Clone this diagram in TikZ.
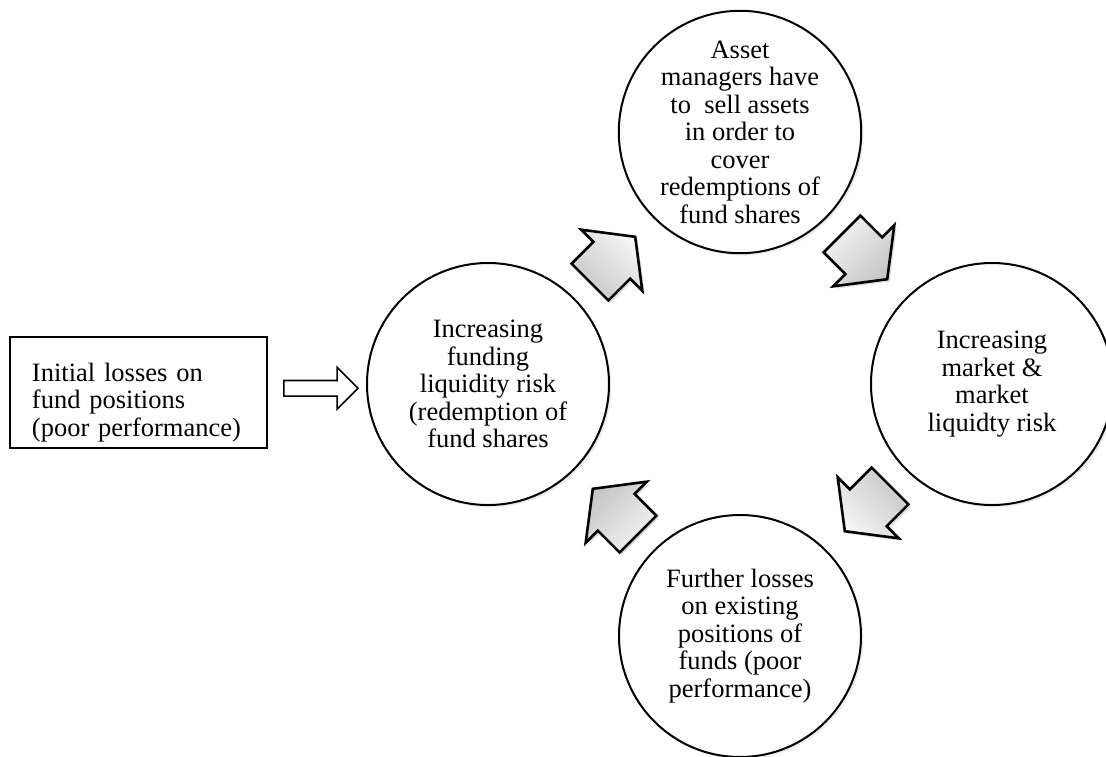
\documentclass[tikz,border=0pt]{standalone}
\usepackage{fontspec}
\setmainfont{Liberation Serif}
\usetikzlibrary{positioning, arrows, calc, shapes.arrows, shadows}

\begin{document}
\begin{tikzpicture}[x=0.5pt, y=0.5pt,
  font=\fontsize{13.25}{13.75}\selectfont,
  stage/.style={circle, draw, line width=1pt, fill=white, minimum size=121pt, inner sep=0pt, align=center,
    drop shadow={opacity=0.15, shadow xshift=1.2pt, shadow yshift=-1.2pt}},
  turn/.style={single arrow, draw, line width=1.3pt, top color=gray!8, bottom color=gray!45,
    minimum width=0pt, minimum height=32pt, inner xsep=0pt, inner ysep=12.375pt,
    single arrow head extend=8.625pt, single arrow tip angle=105,
    drop shadow={opacity=0.25, shadow xshift=1.2pt, shadow yshift=-1.2pt},
    rotate=#1, shading angle=-#1, xshift=-6pt},
  push/.style={single arrow, draw, line width=0.8pt, fill=white,
    minimum width=0pt, minimum height=37pt, inner xsep=0pt, inner ysep=3.5pt,
    single arrow head extend=6.5pt}
]
  \useasboundingbox (-740,-372) rectangle (366,384);
  \draw
    (180:252) node[stage] (funding){Increasing\\funding\\liquidity risk\\(redemption of\\fund shares}
    (90:252) node[stage] (sell){Asset\\managers have\\to\ \ sell assets\\in order to\\cover\\redemptions of\\fund shares}
    (0:252) node[stage] (market){Increasing\\market \&\\market\\liquidty risk}
    (270:252) node[stage] (further){Further losses\\on existing\\positions of\\funds (poor\\performance)};
  \node[draw, line width=1pt, minimum width=128.5pt, minimum height=55.5pt, inner xsep=11pt, inner ysep=1pt,
    text width=106.5pt, align=left] (initial) at (-601.5,-8.5)
    {\rule{0pt}{19pt}Initial losses on\\fund positions\\(poor performance)};
  \begin{scope}
    \node[push] (in) at ($(initial.east)!0.5!(funding.west)$) {};
    \node[turn=45] (t1) at ($(funding)!0.5!(sell)$) {};
    \node[turn=-45] (t2) at ($(sell)!0.5!(market)$) {};
    \node[turn=-135] (t3) at ($(market)!0.5!(further)$) {};
    \node[turn=135] (t4) at ($(further)!0.5!(funding)$) {};
  \end{scope}
\end{tikzpicture}
\end{document}
